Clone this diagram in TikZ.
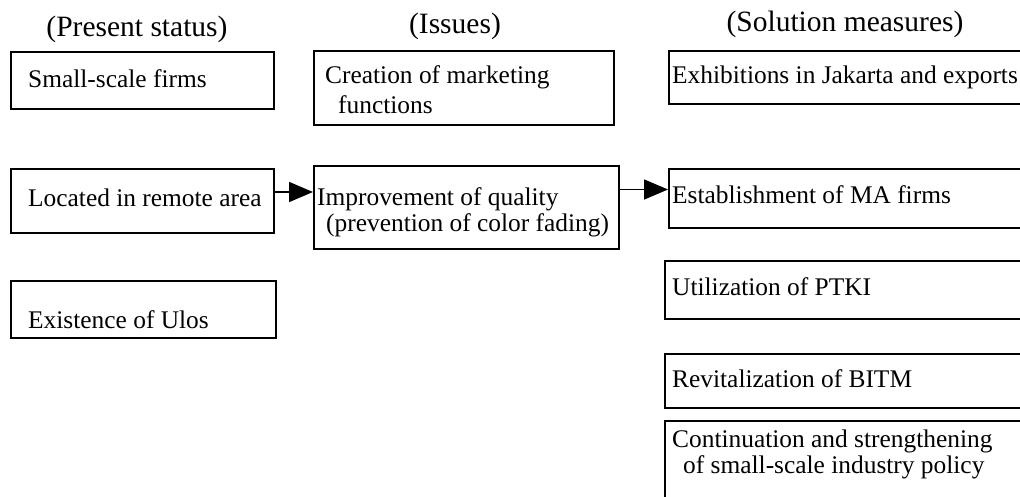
\documentclass[tikz,border=0pt]{standalone}
\usepackage{fontspec}
\setmainfont{Liberation Serif}
\usetikzlibrary{arrows.meta}
\begin{document}
\begin{tikzpicture}[x=1pt,y=-1pt,
  box/.style={draw, line width=2pt, rectangle, inner sep=0pt, anchor=north west},
  txt/.style={anchor=base west, inner sep=0pt, font=\fontsize{25.4}{30}\selectfont},
  head/.style={anchor=base, inner sep=0pt, font=\fontsize{29.5}{34}\selectfont},
  arr/.style={line width=1.6pt, -{Triangle[length=24pt,width=20pt]}}]
\useasboundingbox (0,0) rectangle (1020,496);
\clip (0,0) rectangle (1020,496);

% column headings
\node[head] (h1) at (137,36) {(Present status)};
\node[head] (h2) at (455,33) {(Issues)};
\node[head] (h3) at (845,31) {(Solution measures)};

% present status
\node[box, minimum width=263pt, minimum height=57pt] (ps1) at (10,51) {};
\node[box, minimum width=263pt, minimum height=64pt] (ps2) at (10,168) {};
\node[box, minimum width=265pt, minimum height=57pt] (ps3) at (10,280) {};
\node[txt] (t1) at (28,87) {Small-scale firms};
\node[txt] (t2) at (28,206) {Located in remote area};
\node[txt] (t3) at (28,328) {Existence of Ulos};

% issues
\node[box, minimum width=300pt, minimum height=74pt] (is1) at (313,50) {};
\node[box, minimum width=305pt, minimum height=83pt] (is2) at (313,165) {};
\node[txt] (t4) at (325,83) {Creation of marketing};
\node[txt] (t5) at (338,113) {functions};
\node[txt] (t6) at (317,205) {Improvement of quality};
\node[txt] (t7) at (326,231) {(prevention of color fading)};

% solution measures
\node[box, minimum width=380pt, minimum height=53pt] (so1) at (668,50) {};
\node[box, minimum width=380pt, minimum height=59pt] (so2) at (668,168) {};
\node[box, minimum width=380pt, minimum height=58pt] (so3) at (664,260) {};
\node[box, minimum width=380pt, minimum height=54pt] (so4) at (664,353) {};
\node[box, minimum width=380pt, minimum height=100pt] (so5) at (664,420) {};
\node[txt] (t8) at (672,83) {Exhibitions in Jakarta and exports};
\node[txt] (t9) at (672,203) {Establishment of MA firms};
\node[txt] (t10) at (672,295) {Utilization of PTKI};
\node[txt] (t11) at (672,387) {Revitalization of BITM};
\node[txt] (t12) at (672,447) {Continuation and strengthening};
\node[txt] (t13) at (683,473) {of small-scale industry policy};

% connectors
\coordinate (a1) at ([yshift=9pt]ps2.east);
\coordinate (a2) at ([yshift=18pt]is2.east);
\draw[arr] (a1) -- (a1 -| is2.west);
\draw[arr] (a2) -- (a2 -| so2.west);
\end{tikzpicture}
\end{document}
